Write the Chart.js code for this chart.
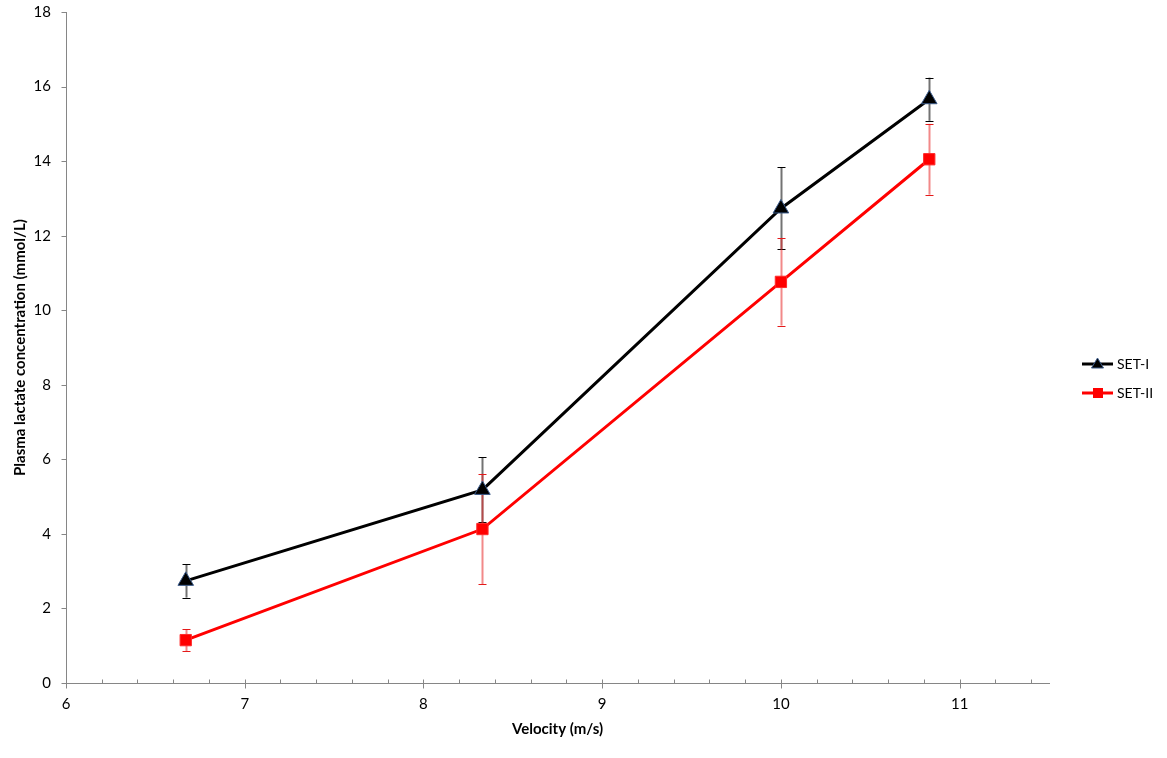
<!DOCTYPE html>
<html>
<head>
<meta charset="utf-8">
<script src="https://cdn.jsdelivr.net/npm/chart.js@4.4.1/dist/chart.umd.min.js"></script>
<style>
html,body{margin:0;padding:0;background:#fff;}
#wrap{width:1167px;height:758px;}
</style>
</head>
<body>
<div id="wrap"><canvas id="c" width="1167" height="758"></canvas></div>
<script>
// ---- data ----
const velocities = [6.67, 8.33, 10.0, 10.83];
const set1Values = [2.74, 5.18, 12.73, 15.66];
const set1Errors = [0.45, 0.87, 1.10, 0.58];
const set2Values = [1.15, 4.13, 10.76, 14.05];
const set2Errors = [0.29, 1.48, 1.17, 0.95];
const seriesNames = ['SET-I', 'SET-II'];
const xTickValues = [6, 7, 8, 9, 10, 11];
const yTickValues = [0, 2, 4, 6, 8, 10, 12, 14, 16, 18];

const FONT = 'Lato, "Open Sans", sans-serif';
const AXIS_COLOR = '#868686';

const errorBarPlugin = {
  id: 'errorBars',
  beforeDatasetsDraw(chart) {
    const ctx = chart.ctx;
    const xs = chart.scales.x, ys = chart.scales.y;
    const sets = [
      {vals: set1Values, errs: set1Errors, line: 'rgba(0,0,0,0.55)', cap: '#000'},
      {vals: set2Values, errs: set2Errors, line: 'rgba(232,40,40,0.55)', cap: '#e41a1a'}
    ];
    ctx.save();
    sets.forEach(s => {
      s.vals.forEach((v, i) => {
        const px = Math.round(xs.getPixelForValue(velocities[i])) + 0.5;
        const top = ys.getPixelForValue(v + s.errs[i]);
        const bot = ys.getPixelForValue(v - s.errs[i]);
        ctx.strokeStyle = s.line;
        ctx.lineWidth = 2;
        ctx.beginPath();
        ctx.moveTo(px, top); ctx.lineTo(px, bot);
        ctx.stroke();
        ctx.strokeStyle = s.cap;
        ctx.lineWidth = 1;
        ctx.beginPath();
        ctx.moveTo(px - 4, Math.round(top) + 0.5); ctx.lineTo(px + 4, Math.round(top) + 0.5);
        ctx.moveTo(px - 4, Math.round(bot) + 0.5); ctx.lineTo(px + 4, Math.round(bot) + 0.5);
        ctx.stroke();
      });
    });
    ctx.restore();
  }
};

const axisTicksPlugin = {
  id: 'axisTicks',
  afterDraw(chart) {
    const ctx = chart.ctx;
    const xs = chart.scales.x, ys = chart.scales.y;
    const ca = chart.chartArea;
    ctx.save();
    ctx.strokeStyle = AXIS_COLOR;
    ctx.lineWidth = 1;
    ctx.beginPath();
    for (let k = 0; k <= 27; k++) {
      const v = 6 + k * 0.2;
      const px = Math.round(xs.getPixelForValue(v)) + 0.5;
      const yb = Math.round(ca.bottom) + 0.5;
      if (k % 5 === 0) { ctx.moveTo(px, yb - 4); ctx.lineTo(px, yb + 5); }
      else { ctx.moveTo(px, yb - 4); ctx.lineTo(px, yb); }
    }
    yTickValues.forEach(v => {
      const py = Math.round(ys.getPixelForValue(v)) + 0.5;
      const xl = Math.round(ca.left) + 0.5;
      ctx.moveTo(xl - 5, py); ctx.lineTo(xl, py);
    });
    ctx.stroke();

    const items = [
      {name: seriesNames[0], color: '#000', y: 364, style: 'triangle'},
      {name: seriesNames[1], color: '#ff0000', y: 393, style: 'rect'}
    ];
    items.forEach(it => {
      ctx.strokeStyle = it.color;
      ctx.lineWidth = 3;
      ctx.beginPath();
      ctx.moveTo(1082, it.y); ctx.lineTo(1113, it.y);
      ctx.stroke();
      ctx.beginPath();
      if (it.style === 'triangle') {
        ctx.fillStyle = '#000';
        ctx.strokeStyle = '#3a5a8a';
        ctx.lineWidth = 1;
        ctx.moveTo(1097.5, it.y - 6); ctx.lineTo(1103.5, it.y + 4); ctx.lineTo(1091.5, it.y + 4); ctx.closePath();
        ctx.fill(); ctx.stroke();
      } else {
        ctx.fillStyle = '#ff0000';
        ctx.fillRect(1093, it.y - 5, 10, 10);
      }
      ctx.fillStyle = '#000';
      ctx.font = '14px ' + FONT;
      ctx.textBaseline = 'middle';
      ctx.textAlign = 'left';
      ctx.fillText(it.name, 1117, it.y);
    });
    ctx.restore();
  }
};

new Chart(document.getElementById('c'), {
  type: 'scatter',
  data: {
    datasets: [
      {
        label: seriesNames[0],
        data: velocities.map((x, i) => ({x: x, y: set1Values[i]})),
        showLine: true,
        borderColor: '#000',
        borderWidth: 3,
        pointStyle: 'triangle',
        pointRadius: 9,
        pointBackgroundColor: '#000',
        pointBorderColor: '#3a5a8a',
        pointBorderWidth: 1,
        tension: 0
      },
      {
        label: seriesNames[1],
        data: velocities.map((x, i) => ({x: x, y: set2Values[i]})),
        showLine: true,
        borderColor: '#ff0000',
        borderWidth: 3,
        pointStyle: 'rect',
        pointRadius: 8,
        pointBackgroundColor: '#ff0000',
        pointBorderColor: '#ff2a2a',
        pointBorderWidth: 1,
        tension: 0
      }
    ]
  },
  options: {
    responsive: false,
    animation: false,
    events: [],
    layout: {padding: {left: 11, right: 118, top: 12, bottom: 0}},
    plugins: {legend: {display: false}, tooltip: {enabled: false}},
    scales: {
      x: {
        type: 'linear',
        min: 6, max: 11.5,
        afterBuildTicks: (s) => { s.ticks = xTickValues.map(v => ({value: v})); },
        afterFit: (s) => { s.height = 75; s.paddingLeft = 0; s.paddingRight = 0; },
        grid: {display: false},
        border: {display: true, color: AXIS_COLOR, width: 1},
        ticks: {color: '#000', font: {family: FONT, size: 15}, padding: 4, maxRotation: 0,
                callback: (v) => String(v)},
        title: {display: true, text: 'Velocity (m/s)', color: '#000',
                font: {family: FONT, size: 15, weight: 'bold'}, padding: {top: 4, bottom: 20}}
      },
      y: {
        min: 0, max: 18,
        afterBuildTicks: (s) => { s.ticks = yTickValues.map(v => ({value: v})); },
        afterFit: (s) => { s.width = 55; s.paddingTop = 0; s.paddingBottom = 0; },
        grid: {display: false},
        border: {display: true, color: AXIS_COLOR, width: 1},
        ticks: {color: '#000', font: {family: FONT, size: 15}, padding: 7,
                callback: (v) => String(v)},
        title: {display: true, text: 'Plasma lactate concentration (mmol/L)', color: '#000',
                font: {family: FONT, size: 15, weight: 'bold'}, padding: {top: 0, bottom: 4}}
      }
    }
  },
  plugins: [errorBarPlugin, axisTicksPlugin]
});
</script>
</body>
</html>
